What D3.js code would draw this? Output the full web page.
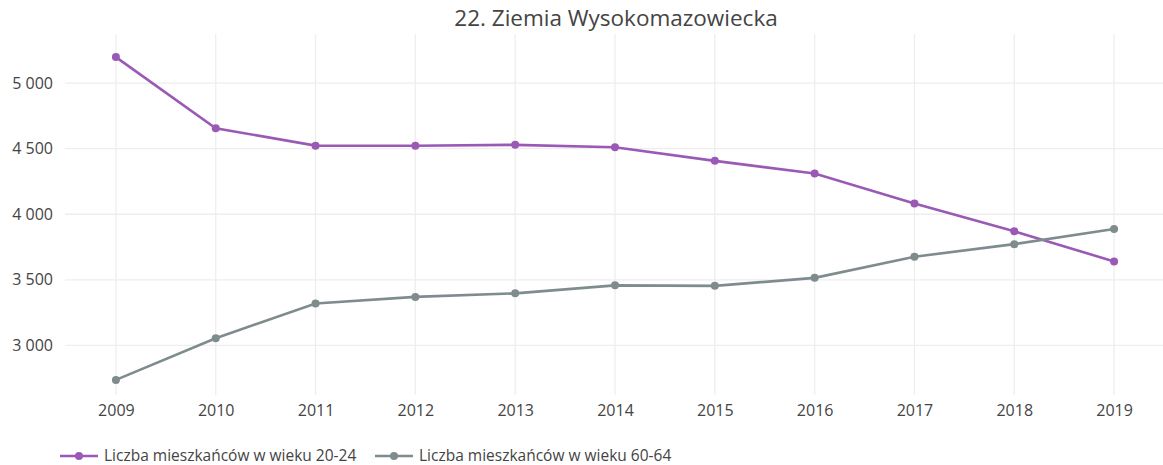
<!DOCTYPE html>
<html>
<head>
<meta charset="utf-8">
<script src="https://cdn.jsdelivr.net/npm/d3@7"></script>
<style>
  body { margin: 0; background: #fff; }
  svg text { font-family: "Open Sans", sans-serif; fill: #444; }
</style>
</head>
<body>
<svg id="chart"></svg>
<script>
const years = [2009, 2010, 2011, 2012, 2013, 2014, 2015, 2016, 2017, 2018, 2019];
const age2024 = [5198, 4656, 4523, 4522, 4529, 4511, 4407, 4310, 4082, 3870, 3640];
const age6064 = [2737, 3055, 3319, 3370, 3397, 3458, 3454, 3515, 3676, 3772, 3887];
const yTicks = [3000, 3500, 4000, 4500, 5000];
const seriesNames = ["Liczba mieszkańców w wieku 20-24", "Liczba mieszkańców w wieku 60-64"];
const seriesColors = ["#9b59b6", "#7f8c8d"];

const width = 1163, height = 465;
const margin = {top: 34, right: 0, bottom: 70, left: 65};

const svg = d3.select("#chart").attr("width", width).attr("height", height);

const x = d3.scaleLinear()
    .domain([2008.49, 2019.49])
    .range([margin.left, width - margin.right]);

const y = d3.scaleLinear()
    .domain([2622, 5374])
    .range([height - margin.bottom, margin.top]);

// gridlines
svg.append("g")
    .selectAll("line")
    .data(years)
    .enter().append("line")
    .attr("x1", d => x(d)).attr("x2", d => x(d))
    .attr("y1", margin.top).attr("y2", height - margin.bottom)
    .attr("stroke", "#eee").attr("stroke-width", 1.3);

svg.append("g")
    .selectAll("line")
    .data(yTicks)
    .enter().append("line")
    .attr("x1", margin.left).attr("x2", width - margin.right)
    .attr("y1", d => y(d)).attr("y2", d => y(d))
    .attr("stroke", "#eee").attr("stroke-width", 1.3);

// axes
const fmt = d => d3.format(",")(d).replace(",", " ");

const yAxis = svg.append("g")
    .attr("transform", `translate(${margin.left},0)`)
    .call(d3.axisLeft(y).tickValues(yTicks).tickSize(0).tickPadding(12).tickFormat(fmt));
yAxis.select(".domain").remove();
yAxis.selectAll("text").style("font-size", "16px");

const xAxis = svg.append("g")
    .attr("transform", `translate(0,${height - margin.bottom})`)
    .call(d3.axisBottom(x).tickValues(years).tickSize(0).tickPadding(10).tickFormat(d3.format("d")));
xAxis.select(".domain").remove();
xAxis.selectAll("text").style("font-size", "16px");

// lines
const series = [age2024, age6064];
const line = d3.line()
    .x((d, i) => x(years[i]))
    .y(d => y(d));

series.forEach((vals, s) => {
    svg.append("path")
        .datum(vals)
        .attr("fill", "none")
        .attr("stroke", seriesColors[s])
        .attr("stroke-width", 2.6)
        .attr("d", line);

    svg.append("g")
        .selectAll("circle")
        .data(vals)
        .enter().append("circle")
        .attr("cx", (d, i) => x(years[i]))
        .attr("cy", d => y(d))
        .attr("r", 4)
        .attr("fill", seriesColors[s]);
});

// title
svg.append("text")
    .attr("x", 616)
    .attr("y", 26)
    .attr("text-anchor", "middle")
    .style("font-size", "22.5px")
    .text("22. Ziemia Wysokomazowiecka");

// legend
const legendX = [60, 375];
seriesNames.forEach((name, s) => {
    const g = svg.append("g").attr("transform", `translate(${legendX[s]},456)`);
    g.append("line")
        .attr("x1", 0).attr("x2", 38)
        .attr("stroke", seriesColors[s]).attr("stroke-width", 2.6);
    g.append("circle")
        .attr("cx", 19).attr("r", 4)
        .attr("fill", seriesColors[s]);
    g.append("text")
        .attr("x", 44)
        .attr("dy", "0.33em")
        .style("font-size", "15.5px")
        .text(name);
});
</script>
</body>
</html>
